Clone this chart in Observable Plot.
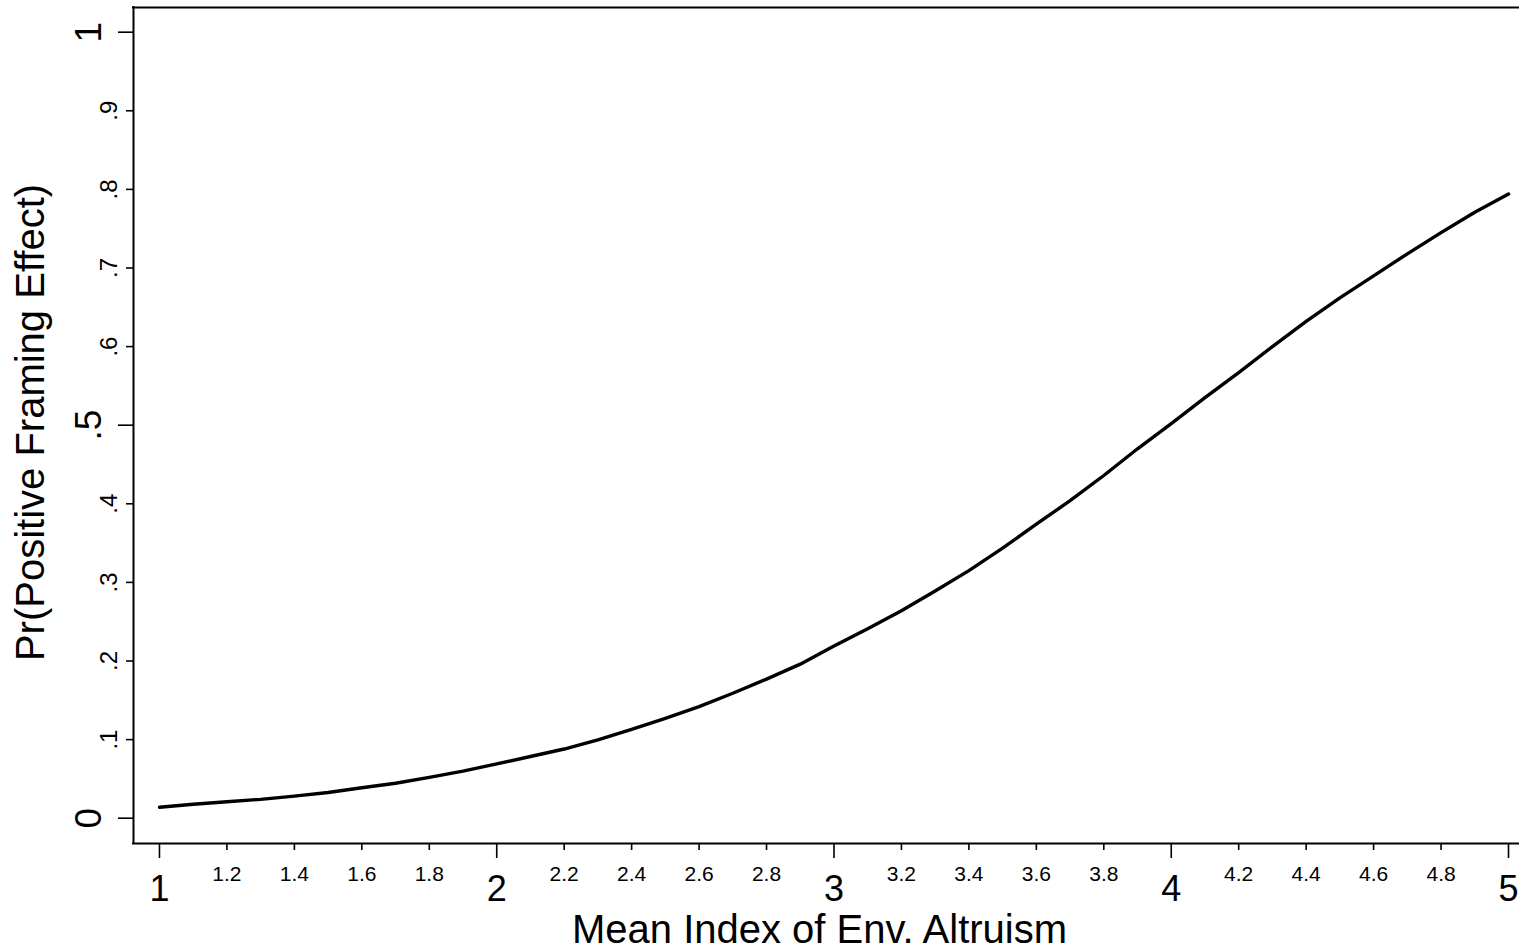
<!DOCTYPE html>
<html>
<head>
<meta charset="utf-8">
<script src="https://cdn.jsdelivr.net/npm/d3@7"></script>
<script src="https://cdn.jsdelivr.net/npm/@observablehq/plot@0.6"></script>
<style>
  html, body { margin: 0; padding: 0; background: #fff; overflow: hidden; }
  #chart svg { display: block; }
</style>
</head>
<body>
<div id="chart"></div>
<script>
// ---- data ----
const altruism = [1.0, 1.1, 1.2, 1.3, 1.4, 1.5, 1.6, 1.7, 1.8, 1.9,
                  2.0, 2.1, 2.2, 2.3, 2.4, 2.5, 2.6, 2.7, 2.8, 2.9,
                  3.0, 3.1, 3.2, 3.3, 3.4, 3.5, 3.6, 3.7, 3.8, 3.9,
                  4.0, 4.1, 4.2, 4.3, 4.4, 4.5, 4.6, 4.7, 4.8, 4.9, 5.0];
const prPositive = [0.014, 0.0178, 0.021, 0.024, 0.028, 0.0327, 0.0387, 0.0445, 0.052, 0.0598,
                    0.069, 0.0785, 0.088, 0.0997, 0.113, 0.127, 0.142, 0.159, 0.177, 0.196,
                    0.219, 0.241, 0.264, 0.289, 0.315, 0.3435, 0.374, 0.404, 0.436, 0.47,
                    0.502, 0.535, 0.567, 0.600, 0.632, 0.662, 0.690, 0.718, 0.745, 0.771, 0.794];
const xMajorTicks = [1, 2, 3, 4, 5];
const xMinorTicks = [1.2, 1.4, 1.6, 1.8, 2.2, 2.4, 2.6, 2.8, 3.2, 3.4, 3.6, 3.8, 4.2, 4.4, 4.6, 4.8];
const yMajorTicks = [0, 0.5, 1];
const yMinorTicks = [0.1, 0.2, 0.3, 0.4, 0.6, 0.7, 0.8, 0.9];
const xTitle = "Mean Index of Env. Altruism";
const yTitle = "Pr(Positive Framing Effect)";

// ---- layout ----
const xDomain = [0.923, 5.0326];
const yDomain = [-0.0322, 1.0314];
const fmtY = d => d === 0 ? "0" : d === 1 ? "1" : String(d).replace(/^0\./, ".");
const fmtX = d => String(d);

const points = altruism.map((x, i) => ({x, y: prPositive[i]}));

const chart = Plot.plot({
  width: 1519,
  height: 948,
  marginLeft: 133,
  marginRight: 0,
  marginTop: 7,
  marginBottom: 105,
  style: {fontFamily: "'Liberation Sans', Arial, sans-serif", background: "#fff", color: "#000"},
  x: {domain: xDomain},
  y: {domain: yDomain},
  marks: [
    // plot region outline (left, top, bottom)
    Plot.ruleY([yDomain[0], yDomain[1]], {stroke: "#000", strokeWidth: 2, strokeLinecap: "square"}),
    Plot.ruleX([xDomain[0]], {stroke: "#000", strokeWidth: 2, strokeLinecap: "square"}),
    // x axis
    Plot.axisX({ticks: xMajorTicks, tickSize: 15, tickPadding: 17, fontSize: 36, tickFormat: fmtX, strokeWidth: 1.6, label: null}),
    Plot.axisX({ticks: xMinorTicks, tickSize: 7, tickPadding: 16, fontSize: 21, tickFormat: fmtX, strokeWidth: 1.6, label: null}),
    // y axis
    Plot.axisY({ticks: yMajorTicks, tickSize: 15, tickPadding: 18, fontSize: 37, tickRotate: -90, textAnchor: "middle", lineAnchor: "bottom", tickFormat: fmtY, strokeWidth: 1.6, label: null}),
    Plot.axisY({ticks: yMinorTicks, tickSize: 7, tickPadding: 10, fontSize: 24, tickRotate: -90, textAnchor: "middle", lineAnchor: "bottom", tickFormat: fmtY, strokeWidth: 1.6, label: null}),
    // titles
    Plot.text([xTitle], {text: d => d, frameAnchor: "bottom", dx: -7, dy: 99, lineAnchor: "bottom", fontSize: 40, fill: "#000"}),
    Plot.text([yTitle], {text: d => d, frameAnchor: "left", dx: -90, dy: -3, rotate: -90, textAnchor: "middle", lineAnchor: "bottom", fontSize: 40, fill: "#000"}),
    // the curve
    Plot.line(points, {x: "x", y: "y", stroke: "#000", strokeWidth: 3.4, strokeLinejoin: "round"})
  ]
});
document.getElementById("chart").appendChild(chart);
</script>
</body>
</html>
